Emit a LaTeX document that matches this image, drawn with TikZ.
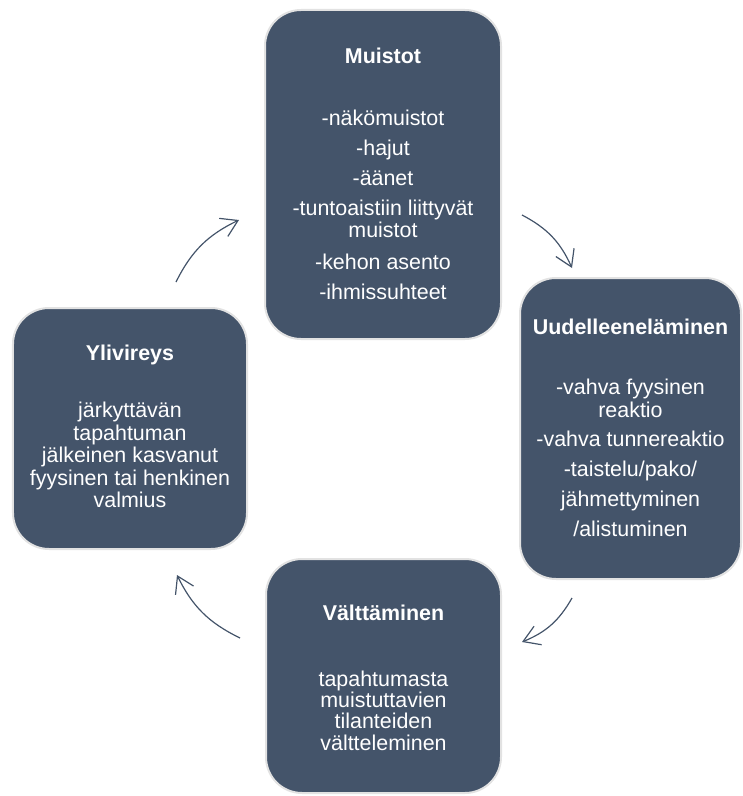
\documentclass[tikz,border=0pt]{standalone}
\usepackage{fontspec}
\setmainfont{Liberation Sans}
\usetikzlibrary{arrows.meta}
\definecolor{boxfill}{HTML}{44546A}
\definecolor{boxedge}{HTML}{E2E2E2}
\begin{document}
\begin{tikzpicture}[x=1bp,y=-1bp,
  cyclebox/.style={draw=boxedge, line width=2bp, fill=boxfill, rounded corners=36bp, inner sep=0pt},
  boxtitle/.style={text=white, font=\fontsize{21.5}{23.5}\selectfont\bfseries, inner sep=0pt},
  boxbody/.style={text=white, font=\fontsize{21.5}{22.5}\selectfont, align=center, inner sep=0pt},
  cyclearrow/.style={draw=boxfill, line width=1.2bp, -{Straight Barb[length=16bp,width=20bp]}, bend left=19}]
\useasboundingbox (0,0) rectangle (743,796);

\node[cyclebox, minimum width=236bp, minimum height=329bp] (muistot) at (383,174.5) {};
\node[cyclebox, minimum width=221bp, minimum height=301bp] (uud) at (630.5,428.5) {};
\node[cyclebox, minimum width=234bp, minimum height=241bp] (yli) at (130,428.5) {};
\node[cyclebox, minimum width=235bp, minimum height=234bp] (valt) at (383.5,676) {};

\node[boxtitle] (t1) at (383,56) {Muistot};
\node[boxbody] (b1) at (383,204.5) {-näkömuistot\\[7.7bp] -hajut\\[7.7bp] -äänet\\[7.7bp] -tuntoaistiin liittyvät\\ muistot\\[9bp] -kehon asento\\[7.7bp] -ihmissuhteet};

\node[boxtitle] (t2) at (630.5,327) {Uudelleeneläminen};
\node[boxbody] (b2) at (630.5,458) {-vahva fyysinen\\ reaktio\\[7.5bp] -vahva tunnereaktio\\[7.5bp] -taistelu/pako/\\[7.5bp] jähmettyminen\\[7.5bp] /alistuminen};

\node[boxtitle] (t3) at (130,355) {Ylivireys};
\node[boxbody] (b3) at (130,455) {järkyttävän\\ tapahtuman\\ jälkeinen kasvanut\\ fyysinen tai henkinen\\ valmius};

\node[boxtitle] (t4) at (383.5,613) {Välttäminen};
\node[boxbody] (b4) at (383.5,710.5) {tapahtumasta\\[-1bp] muistuttavien\\[-1bp] tilanteiden\\[-1bp] vältteleminen};

\coordinate (a1s) at (176,282);
\coordinate (a1e) at (239,220);
\coordinate (a2s) at (522,215);
\coordinate (a2e) at (572,268);
\coordinate (a3s) at (572,598);
\coordinate (a3e) at (522,642);
\coordinate (a4s) at (240,638);
\coordinate (a4e) at (177,575);

\draw[cyclearrow] (a1s) to (a1e);
\draw[cyclearrow] (a2s) to (a2e);
\draw[cyclearrow] (a3s) to (a3e);
\draw[cyclearrow] (a4s) to (a4e);
\end{tikzpicture}
\end{document}
